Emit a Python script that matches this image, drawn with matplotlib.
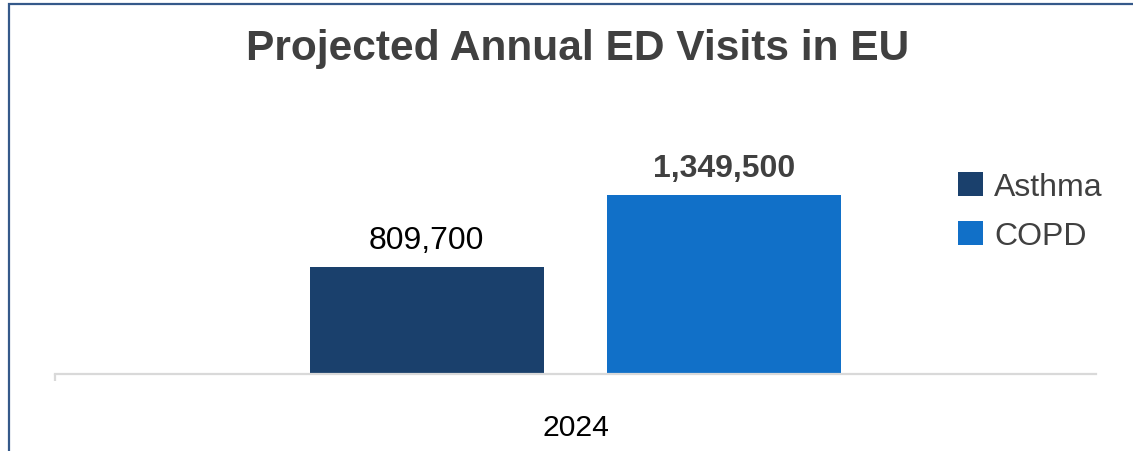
import matplotlib
matplotlib.use("Agg")
import matplotlib.pyplot as plt
from matplotlib.patches import Rectangle

# data
category = "2024"
series = ["Asthma", "COPD"]
values = [809700, 1349500]
colors = ["#1A406C", "#1170C8"]
label_styles = [("normal", "black"), ("bold", "#404040")]

plt.rcParams["font.family"] = ["Liberation Sans", "DejaVu Sans"]

W, H = 1133, 452
fig = plt.figure(figsize=(W / 100, H / 100), dpi=100)
ax = fig.add_axes([55 / W, 1 - 375 / H, (1096 - 55) / W, (375 - 163) / H])

offsets = [-0.143, 0.143]
bars = []
for name, val, col, off, (fw, fc) in zip(series, values, colors, offsets, label_styles):
    b = ax.bar(off, val, width=0.225, color=col, label=name, zorder=2)
    bars.append(b)
    ax.annotate(f"{val:,}", (off, val), xytext=(0, 13.5), textcoords="offset points",
                ha="center", va="baseline", fontsize=23, fontweight=fw, color=fc)

ax.set_xlim(-0.5, 0.5)
ax.set_ylim(0, 1600000)
ax.set_yticks([])
for s in ["top", "right", "left"]:
    ax.spines[s].set_visible(False)
ax.spines["bottom"].set_color("#D9D9D9")
ax.spines["bottom"].set_linewidth(1.6)
ax.set_xticks([0], [category])
ax.tick_params(axis="x", length=0, pad=28, labelsize=21.7, labelcolor="black")
ax.set_xticks([-0.5], minor=True)
ax.tick_params(axis="x", which="minor", length=5, width=1.6, color="#D9D9D9")

fig.text(578 / W, 1 - 49 / H, "Projected Annual ED Visits in EU", ha="center", va="center",
         fontsize=30.6, fontweight="bold", color="#404040")

leg = fig.legend(handles=[b[0] for b in bars], labels=series, loc="upper left",
                 bbox_to_anchor=(948 / W, 1 - 163 / H), frameon=False, fontsize=23,
                 handlelength=0.78, handleheight=0.78, handletextpad=0.37, labelspacing=0.61,
                 borderaxespad=0, borderpad=0.3)
for t in leg.get_texts():
    t.set_color("#404040")

fig.patches.append(Rectangle((9 / W, -0.2), 1.5, 1.2 - 5 / H, transform=fig.transFigure,
                             fill=False, edgecolor="#35598A", linewidth=1.6))

fig.savefig("out.png", dpi=100)
